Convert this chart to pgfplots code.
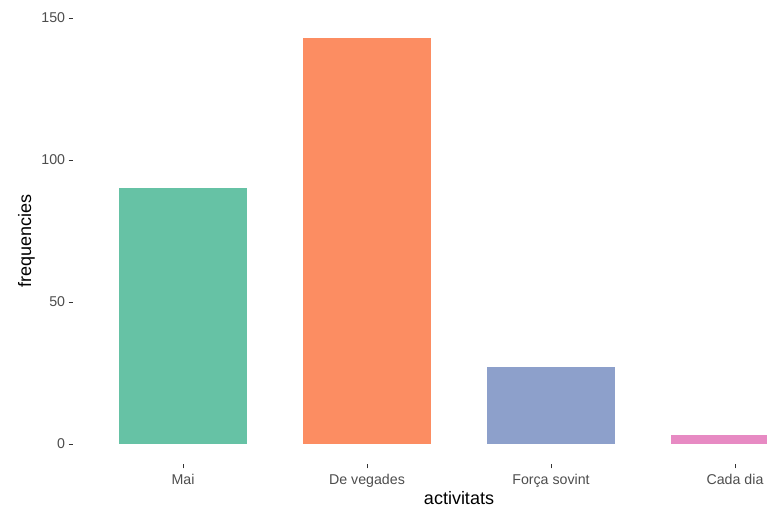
\documentclass[border=0pt]{standalone}
\usepackage{fontspec}
\setmainfont{Liberation Sans}
\usepackage{pgfplots}
\pgfplotsset{compat=1.18}
\definecolor{c1}{HTML}{66C2A5}
\definecolor{c2}{HTML}{FC8D62}
\definecolor{c3}{HTML}{8DA0CB}
\definecolor{c4}{HTML}{E78AC3}
\definecolor{tickgray}{HTML}{4D4D4D}
\definecolor{tickline}{HTML}{333333}
\begin{document}
\begin{tikzpicture}[x=1bp,y=1bp]
\useasboundingbox (0,0) rectangle (767,510);
\begin{axis}[
  at={(72.6bp,45.7bp)}, anchor=south west,
  scale only axis, width=694.4bp, height=446.7bp,
  xmin=0.4, xmax=4.174, ymin=-7.15, ymax=150.15,
  axis line style={draw=none},
  xtick={1,2,3,4}, xticklabels={Mai, De vegades, Força sovint, Cada dia},
  ytick={0,50,100,150},
  xtick pos=left, ytick pos=left,
  tick align=outside, major tick length=4bp,
  tick style={color=tickline, line width=0.8bp},
  ticklabel style={font=\fontsize{14.2bp}{16bp}\selectfont, text=tickgray},
  xticklabel style={yshift=-2.5bp},
  /pgf/number format/assume math mode=true,
  ybar, bar width=0.7, bar shift=0pt,
]
\addplot[fill=c1, draw=none] coordinates {(1,90)};
\addplot[fill=c2, draw=none] coordinates {(2,143)};
\addplot[fill=c3, draw=none] coordinates {(3,27)};
\addplot[fill=c4, draw=none] coordinates {(4,3)};
\end{axis}
\node[rotate=90, anchor=base, font=\fontsize{18bp}{20bp}\selectfont] at (31,269) {frequencies};
\node[anchor=base, font=\fontsize{18bp}{20bp}\selectfont] at (459,5) {activitats};
\end{tikzpicture}
\end{document}
